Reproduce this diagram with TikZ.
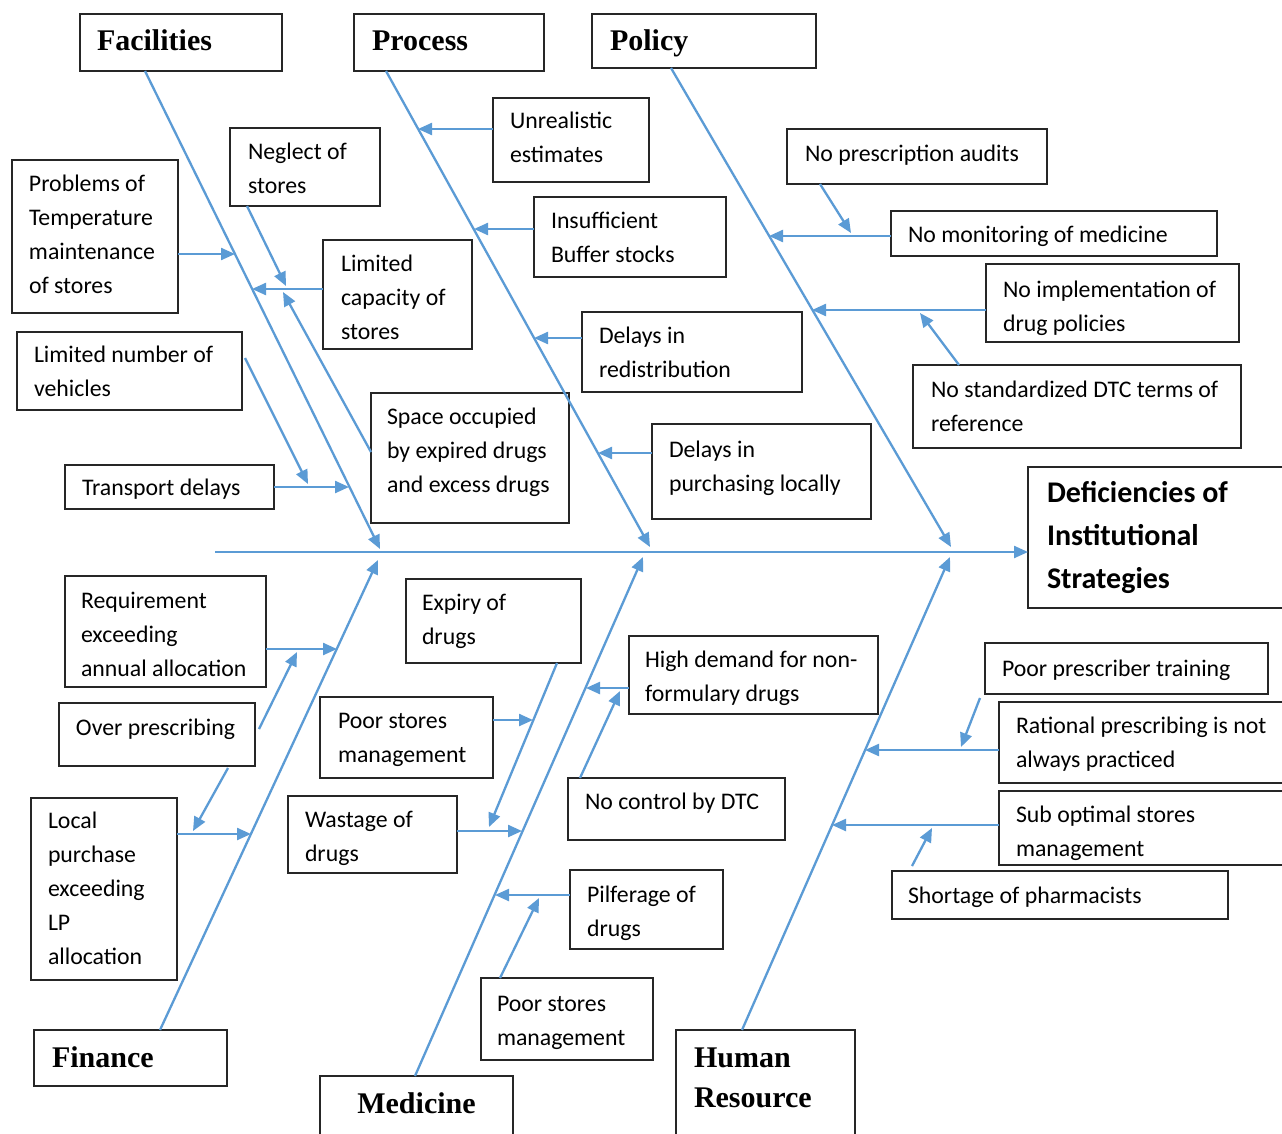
\documentclass[tikz,border=0pt]{standalone}
\usepackage{fontspec}
\setmainfont{Carlito}
\newfontfamily\catfont{Liberation Serif}
\usetikzlibrary{arrows.meta,calc}
\definecolor{bonecol}{RGB}{91,155,213}
\newcommand\bt[3][17pt]{\makebox[#2][l]{\hspace*{#1}\begin{tabular}[t]{@{}l@{}}#3\end{tabular}}}
\begin{document}
\begin{tikzpicture}[x=1pt,y=-1pt,
  box/.style={draw=black!85, line width=1.5pt, inner sep=0pt, outer sep=0pt, anchor=north west,
    font=\fontsize{23.8}{34}\selectfont},
  cat/.style={box, font=\catfont\bfseries\fontsize{30}{40}\selectfont},
  eff/.style={box, font=\bfseries\fontsize{30}{43}\selectfont},
  bone/.style={draw=bonecol, line width=2.3pt, -{Triangle[length=14pt,width=12pt]}}]
\useasboundingbox (0,0) rectangle (1282,1133);
\fill[white] (0,0) rectangle (1282,1133);
\clip (0,0) rectangle (1282,1133);

% category boxes
\node[cat, text height=36pt, text depth=21pt] (fac) at (80,14) {\bt{202pt}{Facilities}};
\node[cat, text height=36pt, text depth=21pt] (proc) at (354,14) {\bt[18pt]{190pt}{Process}};
\node[cat, text height=36pt, text depth=18pt] (pol) at (592,14) {\bt[18pt]{224pt}{Policy}};
\node[cat, text height=37pt, text depth=19pt] (fin) at (34,1030) {\bt[18pt]{193pt}{Finance}};
\node[cat, text height=37pt, text depth=33pt] (med) at (320,1076) {\makebox[193pt][c]{Medicine}};
\node[cat, text height=37pt, text depth=78pt] (hr) at (676,1030) {\bt[18pt]{179pt}{Human\\Resource}};
\node[eff, text height=35pt, text depth=106pt] (effect) at (1028,467) {\bt[19pt]{270pt}{Deficiencies of\\Institutional\\Strategies}};

% Facilities causes
\node[box, text height=31pt, text depth=122pt] (prob) at (12,160) {\bt{166pt}{Problems of\\Temperature\\maintenance\\of stores}};
\node[box, text height=31pt, text depth=47pt] (negl) at (230,128) {\bt[18pt]{150pt}{Neglect of\\stores}};
\node[box, text height=31pt, text depth=78pt] (limcap) at (323,240) {\bt[18pt]{149pt}{Limited\\capacity of\\stores}};
\node[box, text height=30pt, text depth=48pt] (limveh) at (17,332) {\bt{225pt}{Limited number of\\vehicles}};
\node[box, text height=30pt, text depth=14pt] (transp) at (65,465) {\bt{209pt}{Transport delays}};
\node[box, text height=31pt, text depth=99pt] (space) at (371,393) {\bt[16pt]{198pt}{Space occupied\\by expired drugs\\and excess drugs}};

% Process causes
\node[box, text height=30pt, text depth=54pt] (unreal) at (493,98) {\bt{156pt}{Unrealistic\\estimates}};
\node[box, text height=31pt, text depth=49pt] (insuff) at (534,197) {\bt{192pt}{Insufficient\\Buffer stocks}};
\node[box, text height=31pt, text depth=49pt] (redis) at (582,312) {\bt{220pt}{Delays in\\redistribution}};
\node[box, text height=33pt, text depth=62pt] (purch) at (652,424) {\bt{219pt}{Delays in\\purchasing locally}};

% Policy causes
\node[box, text height=32pt, text depth=23pt] (audit) at (787,129) {\bt[18pt]{260pt}{No prescription audits}};
\node[box, text height=31pt, text depth=14pt] (monit) at (891,211) {\bt{326pt}{No monitoring of medicine}};
\node[box, text height=33pt, text depth=45pt] (implem) at (986,264) {\bt{253pt}{No implementation of\\drug policies}};
\node[box, text height=32pt, text depth=51pt] (stdz) at (913,365) {\bt[18pt]{328pt}{No standardized DTC terms of\\reference}};

% Finance causes
\node[box, text height=32pt, text depth=79pt] (reqm) at (65,576) {\bt[16pt]{201pt}{Requirement\\exceeding\\annual allocation}};
\node[box, text height=32pt, text depth=31pt] (overp) at (59,703) {\bt{196pt}{Over prescribing}};
\node[box, text height=30pt, text depth=152pt] (local) at (31,798) {\bt{146pt}{Local\\purchase\\exceeding\\LP\\allocation}};

% Medicine causes
\node[box, text height=31pt, text depth=53pt] (expiry) at (406,579) {\bt[16pt]{175pt}{Expiry of\\drugs}};
\node[box, text height=31pt, text depth=50pt] (poor1) at (320,697) {\bt[18pt]{173pt}{Poor stores\\management}};
\node[box, text height=31pt, text depth=46pt] (waste) at (288,796) {\bt{169pt}{Wastage of\\drugs}};
\node[box, text height=31pt, text depth=47pt] (highd) at (629,636) {\bt[16pt]{249pt}{High demand for non-\\formulary drugs}};
\node[box, text height=31pt, text depth=31pt] (nodtc) at (568,778) {\bt{217pt}{No control by DTC}};
\node[box, text height=32pt, text depth=47pt] (pilf) at (570,870) {\bt{153pt}{Pilferage of\\drugs}};
\node[box, text height=33pt, text depth=49pt] (poor2) at (481,978) {\bt[16pt]{172pt}{Poor stores\\management}};

% Human resource causes
\node[box, text height=33pt, text depth=18pt] (prestr) at (985,643) {\bt{283pt}{Poor prescriber training}};
\node[box, text height=31pt, text depth=50pt] (ratio) at (999,702) {\bt{300pt}{Rational prescribing is not\\always practiced}};
\node[box, text height=31pt, text depth=43pt] (subopt) at (999,791) {\bt{300pt}{Sub optimal stores\\management}};
\node[box, text height=32pt, text depth=16pt] (short) at (892,871) {\bt[16pt]{336pt}{Shortage of pharmacists}};

% spine
\coordinate (spS) at (215,552);
\draw[bone] (spS) -- (effect.west |- spS);

% Facilities bone
\coordinate (facT) at (380,549);
\draw[bone] ($(fac.south west)+(65,0)$) -- (facT);
\coordinate (fa1) at (235,254);
\draw[bone] (prob.east |- fa1) -- (fa1);
\coordinate (fa2) at (252,289);
\draw[bone] (limcap.west |- fa2) -- (fa2);
\coordinate (fa2n) at (286,286);
\draw[bone] ($(negl.south west)+(17,0)$) -- (fa2n);
\coordinate (fa2s) at (283,292);
\draw[bone] ($(space.north west)+(0,59)$) -- (fa2s);
\coordinate (fa3) at (349,487);
\draw[bone] (transp.east |- fa3) -- (fa3);
\coordinate (fa3v) at (308,484);
\draw[bone] ($(limveh.north east)+(3,26)$) -- (fa3v);

% Process bone
\coordinate (prT) at (650,547);
\draw[bone] ($(proc.south west)+(32,0)$) -- (prT);
\coordinate (pr1) at (418,129);
\draw[bone] (unreal.west |- pr1) -- (pr1);
\coordinate (pr2) at (474,229);
\draw[bone] (insuff.west |- pr2) -- (pr2);
\coordinate (pr3) at (534,338);
\draw[bone] (redis.west |- pr3) -- (pr3);
\coordinate (pr4) at (598,453);
\draw[bone] (purch.west |- pr4) -- (pr4);

% Policy bone
\coordinate (poT) at (951,547);
\draw[bone] ($(pol.south west)+(79,0)$) -- (poT);
\coordinate (po1) at (769,236);
\draw[bone] (monit.west |- po1) -- (po1);
\coordinate (po1a) at (851,233);
\draw[bone] ($(audit.south west)+(33,0)$) -- (po1a);
\coordinate (po2) at (812,310);
\draw[bone] (implem.west |- po2) -- (po2);
\coordinate (po2a) at (920,313);
\draw[bone] ($(stdz.north west)+(46,0)$) -- (po2a);

% Finance bone
\coordinate (finT) at (378,560);
\draw[bone] ($(fin.north west)+(126,0)$) -- (finT);
\coordinate (fi1) at (337,649);
\draw[bone] (reqm.east |- fi1) -- (fi1);
\coordinate (fi1a) at (297,652);
\draw[bone] ($(overp.north east)+(4,26)$) -- (fi1a);
\coordinate (fi2) at (251,834);
\draw[bone] (local.east |- fi2) -- (fi2);
\coordinate (fi2a) at (193,831);
\draw[bone] ($(overp.south west)+(169,2)$) -- (fi2a);

% Medicine bone
\coordinate (meT) at (643,557);
\draw[bone] ($(med.north west)+(95,0)$) -- (meT);
\coordinate (me1) at (522,831);
\draw[bone] (waste.east |- me1) -- (me1);
\coordinate (me1a) at (489,827);
\draw[bone] ($(expiry.south west)+(151,0)$) -- (me1a);
\coordinate (me2) at (533,720);
\draw[bone] (poor1.east |- me2) -- (me2);
\coordinate (me3) at (586,688);
\draw[bone] (highd.west |- me3) -- (me3);
\coordinate (me3a) at (620,691);
\draw[bone] ($(nodtc.north west)+(12,0)$) -- (me3a);
\coordinate (me4) at (495,895);
\draw[bone] (pilf.west |- me4) -- (me4);
\coordinate (me4a) at (539,898);
\draw[bone] ($(poor2.north west)+(19,0)$) -- (me4a);

% Human resource bone
\coordinate (hrT) at (950,557);
\draw[bone] ($(hr.north west)+(66,0)$) -- (hrT);
\coordinate (hr1) at (865,750);
\draw[bone] (ratio.west |- hr1) -- (hr1);
\coordinate (hr1a) at (961,747);
\draw[bone] ($(prestr.south west)+(-5,4)$) -- (hr1a);
\coordinate (hr2) at (832,825);
\draw[bone] (subopt.west |- hr2) -- (hr2);
\coordinate (hr2a) at (932,828);
\draw[bone] ($(short.north west)+(20,-5)$) -- (hr2a);
\end{tikzpicture}
\end{document}
